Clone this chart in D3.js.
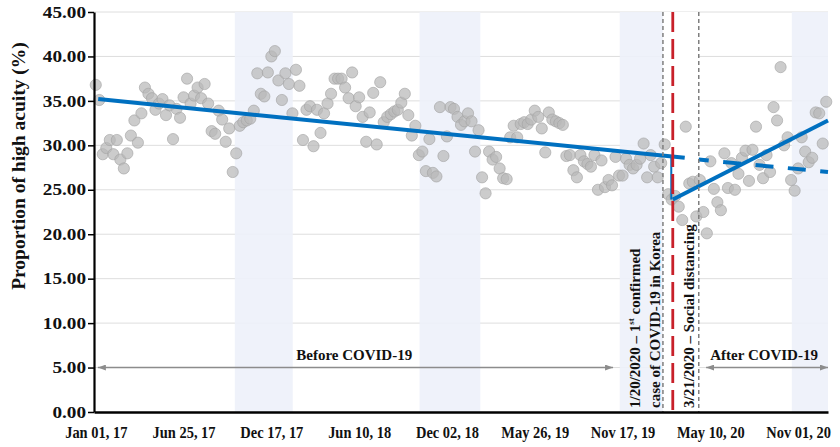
<!DOCTYPE html>
<html>
<head>
<meta charset="utf-8">
<script src="https://cdn.jsdelivr.net/npm/d3@7"></script>
<style>
  body { margin: 0; background: #fff; }
  text { font-family: "Liberation Serif", "Times New Roman", serif; font-weight: bold; }
</style>
</head>
<body>
<div id="chart"></div>
<script>
// weekly proportion of high acuity (%), Jan 2017 - Dec 2020
const acuity = [
  36.8, 35.1, 29.0, 29.7, 30.6, 29.0, 30.6, 28.4, 27.4, 29.1,
  31.1, 32.8, 30.3, 33.6, 36.5, 35.8, 35.3, 34.0, 34.7, 35.2,
  33.4, 34.5, 30.7, 34.1, 33.1, 35.4, 37.5, 34.7, 35.6, 36.5,
  35.3, 36.9, 34.7, 31.6, 31.3, 33.9, 32.9, 30.4, 31.9, 27.0,
  29.1, 32.2, 32.6, 32.8, 33.0, 33.9, 38.1, 35.8, 35.5, 38.2,
  40.0, 40.6, 37.3, 35.1, 38.1, 36.9, 33.6, 38.5, 36.7, 30.6,
  34.0, 34.4, 29.9, 34.0, 31.4, 33.6, 34.7, 35.8, 37.5, 37.5,
  37.5, 36.5, 35.3, 38.2, 34.4, 35.4, 33.2, 30.4, 33.7, 35.9,
  30.1, 37.1, 32.6, 33.2, 33.5, 33.8, 34.0, 34.8, 35.8, 33.4,
  31.1, 32.2, 28.9, 29.3, 27.1, 30.7, 26.9, 26.5, 34.3, 28.8,
  31.0, 34.3, 34.1, 33.2, 32.3, 32.7, 33.6, 32.7, 29.3, 31.7,
  26.4, 24.6, 29.3, 28.4, 28.7, 27.4, 26.3, 26.2, 30.9, 32.2,
  30.9, 32.4, 32.6, 32.4, 32.9, 33.9, 33.2, 31.9, 29.2, 33.7,
  32.9, 32.7, 32.5, 32.3, 28.8, 28.9, 27.2, 26.4, 28.9, 28.2,
  27.9, 27.6, 28.9, 25.0, 28.3, 25.3, 26.1, 25.5, 28.7, 26.6,
  26.6, 28.5, 27.8, 27.4, 27.8, 28.5, 30.2, 26.4, 28.9, 27.6,
  26.4, 28.0, 30.1, 24.5, 23.9, 24.3, 23.1, 21.6, 32.1, 25.7,
  25.9, 22.0, 26.1, 22.5, 20.1, 28.2, 25.1, 23.6, 22.7, 29.1,
  25.2, 28.0, 25.0, 26.8, 28.6, 29.4, 26.0, 29.5, 32.1, 27.8,
  26.3, 28.9, 27.0, 34.3, 32.8, 38.8, 30.0, 30.9, 26.1, 24.9,
  27.4, 30.9, 29.3, 28.1, 28.6, 33.7, 33.6, 30.2, 34.9
];

const tickWeeks = [0, 25, 50, 75, 100, 125, 150, 175, 200];
const tickLabels = ["Jan 01, 17", "Jun 25, 17", "Dec 17, 17", "Jun 10, 18", "Dec 02, 18",
                    "May 26, 19", "Nov 17, 19", "May 10, 20", "Nov 01, 20"];
const yTicks = [0, 5, 10, 15, 20, 25, 30, 35, 40, 45];

// shaded winter weeks
const winterBands = [[39.6, 56.1], [92.2, 109.5], [149.2, 161.5], [198.2, 208.5]];

// segmented regression lines [week, value]
const preTrend = [[0.7, 35.2], [167.7, 28.6]];
const postTrend = [[164.3, 23.9], [208.5, 32.8]];
const counterfactual = [[171.7, 28.4], [208.5, 27.0]];

// first case, covid split, social distancing (week index)
const eventWeeks = [161.5, 164.3, 171.7];

const periods = [
  {label: "Before COVID-19", from: 0.6, to: 147.3, mid: 73.6},
  {label: "After COVID-19", from: 173.8, to: 208.5, mid: 190.3}
];

const svg = d3.select("#chart").append("svg")
  .attr("width", 840)
  .attr("height", 447);

const margin = {top: 12, right: 12, bottom: 35, left: 94};
const width = 840 - margin.left - margin.right;
const height = 447 - margin.top - margin.bottom;
const g = svg.append("g")
  .attr("transform", `translate(${margin.left}, ${margin.top})`);

const x = d3.scaleLinear()
  .domain([-0.5, acuity.length - 0.5])
  .range([0, width]);

const y = d3.scaleLinear()
  .domain([0, 45])
  .range([height, 0]);

// arrow heads
const defs = svg.append("defs");
defs.append("marker")
  .attr("id", "arr")
  .attr("viewBox", "0 0 8 6")
  .attr("refX", 8).attr("refY", 3)
  .attr("markerWidth", 8).attr("markerHeight", 6)
  .attr("markerUnits", "userSpaceOnUse")
  .attr("orient", "auto-start-reverse")
  .append("path")
  .attr("d", "M0,0L8,3L0,6Z")
  .attr("fill", "#8c8c8c");

// gridlines
g.selectAll(".grid")
  .data(yTicks.slice(1))
  .enter().append("line")
  .attr("x1", 0).attr("x2", width)
  .attr("y1", d => y(d)).attr("y2", d => y(d))
  .attr("stroke", "#dedede")
  .attr("stroke-width", 1);

// winter bands
g.selectAll(".band")
  .data(winterBands)
  .enter().append("rect")
  .attr("x", d => x(d[0]))
  .attr("width", d => x(d[1]) - x(d[0]))
  .attr("y", 0)
  .attr("height", height)
  .attr("fill", "#edf1f9")
  .attr("fill-opacity", 0.9);

// transition period left blank
g.append("rect")
  .attr("x", x(eventWeeks[0]))
  .attr("width", x(eventWeeks[2]) - x(eventWeeks[0]))
  .attr("y", 0)
  .attr("height", height)
  .attr("fill", "#fff");

// points
g.selectAll("circle")
  .data(acuity)
  .enter().append("circle")
  .attr("cx", (d, i) => x(i))
  .attr("cy", d => y(d))
  .attr("r", 5.6)
  .attr("fill", "#b9b9b9")
  .attr("fill-opacity", 0.72)
  .attr("stroke", "#a3a3a3")
  .attr("stroke-opacity", 0.8)
  .attr("stroke-width", 0.8);

const line = d3.line().x(d => x(d[0])).y(d => y(d[1]));

g.append("path").datum(preTrend)
  .attr("d", line)
  .attr("fill", "none").attr("stroke", "#0070c0").attr("stroke-width", 4);

g.append("path").datum(postTrend)
  .attr("d", line)
  .attr("fill", "none").attr("stroke", "#0070c0").attr("stroke-width", 4);

g.append("path").datum(counterfactual)
  .attr("d", line)
  .attr("fill", "none").attr("stroke", "#0070c0").attr("stroke-width", 4)
  .attr("stroke-dasharray", "18,14.5")
  .attr("stroke-dashoffset", 8);

// drop at the break
const preAt = w => preTrend[0][1] + (preTrend[1][1] - preTrend[0][1]) * (w - preTrend[0][0]) / (preTrend[1][0] - preTrend[0][0]);
g.append("line")
  .attr("x1", x(eventWeeks[1]) - 1.5).attr("x2", x(eventWeeks[1]) - 1.5)
  .attr("y1", y(preAt(eventWeeks[1]))).attr("y2", y(postTrend[0][1]))
  .attr("stroke", "#0070c0").attr("stroke-width", 2);

// event lines
g.selectAll(".evt")
  .data([eventWeeks[0], eventWeeks[2]])
  .enter().append("line")
  .attr("x1", d => x(d)).attr("x2", d => x(d))
  .attr("y1", 0).attr("y2", height)
  .attr("stroke", "#7f7f7f")
  .attr("stroke-width", 1.5)
  .attr("stroke-dasharray", "4,3");

g.append("line")
  .attr("x1", x(eventWeeks[1])).attr("x2", x(eventWeeks[1]))
  .attr("y1", 0).attr("y2", height)
  .attr("stroke", "#c8202a")
  .attr("stroke-width", 2.8)
  .attr("stroke-dasharray", "20,7");

// period arrows
periods.forEach(p => {
  g.append("line")
    .attr("x1", x(p.from)).attr("x2", x(p.to))
    .attr("y1", y(5)).attr("y2", y(5))
    .attr("stroke", "#8c8c8c")
    .attr("stroke-width", 1.5)
    .attr("marker-start", "url(#arr)")
    .attr("marker-end", "url(#arr)");
  g.append("text")
    .attr("x", x(p.mid))
    .attr("y", y(5) - 8)
    .attr("text-anchor", "middle")
    .attr("font-size", "15px")
    .attr("fill", "#111")
    .text(p.label);
});

// rotated event notes
const note1 = g.append("text")
  .attr("transform", `translate(${x(eventWeeks[0]) - 23}, ${height - 4}) rotate(-90)`)
  .attr("font-size", "15px").attr("fill", "#111");
note1.append("tspan").text("1/20/2020 \u2013 1");
note1.append("tspan").attr("font-size", "9px").attr("dy", -6).text("st");
note1.append("tspan").attr("dy", 6).text(" confirmed");

g.append("text")
  .attr("transform", `translate(${x(eventWeeks[0]) - 3}, ${height - 4}) rotate(-90)`)
  .attr("font-size", "15px").attr("fill", "#111")
  .text("case of COVID-19 in Korea");

g.append("text")
  .attr("transform", `translate(${x(eventWeeks[2]) - 5}, ${height - 4}) rotate(-90)`)
  .attr("font-size", "15px").attr("fill", "#111")
  .text("3/21/2020 \u2013 Social distancing");

// axes
const yAxis = g.append("g")
  .call(d3.axisLeft(y).tickValues(yTicks).tickFormat(d3.format(".2f")).tickSize(6).tickSizeOuter(0).tickPadding(2));
yAxis.select(".domain").attr("stroke", "#000").attr("stroke-width", 2.2);
yAxis.selectAll(".tick line").attr("stroke", "#000").attr("stroke-width", 1.5);
yAxis.selectAll(".tick text")
  .attr("x", 0)
  .attr("transform", "translate(-8,0) scale(1.2,1)")
  .attr("font-size", "16px")
  .attr("font-family", "Liberation Serif")
  .attr("font-weight", "bold")
  .attr("fill", "#111");

const xAxis = g.append("g")
  .attr("transform", `translate(0, ${height})`)
  .call(d3.axisBottom(x).tickValues(tickWeeks).tickFormat((d, i) => tickLabels[i]).tickSize(0).tickSizeOuter(0));
xAxis.select(".domain").attr("stroke", "#000").attr("stroke-width", 2.5);
xAxis.selectAll(".tick text")
  .attr("y", 26).attr("dy", 0)
  .attr("transform", "scale(0.85,1)")
  .attr("font-size", "17px")
  .attr("font-family", "Liberation Serif")
  .attr("font-weight", "bold")
  .attr("fill", "#111");

// y title
svg.append("text")
  .attr("transform", "translate(25, 166) rotate(-90)")
  .attr("text-anchor", "middle")
  .attr("font-size", "19.5px")
  .attr("fill", "#111")
  .text("Proportion of high acuity (%)");
</script>
</body>
</html>
